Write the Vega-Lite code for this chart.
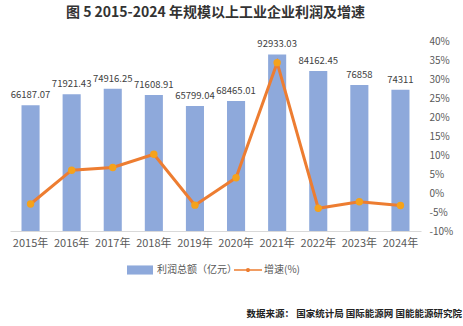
{
  "$schema": "https://vega.github.io/schema/vega-lite/v6.json",
  "autosize": "none",
  "width": 411,
  "height": 190,
  "padding": {"left": 10, "top": 41, "right": 42, "bottom": 95},
  "background": "white",
  "title": {
    "text": "图 5 2015-2024 年规模以上工业企业利润及增速",
    "font": "Noto Sans CJK SC",
    "fontSize": 14,
    "fontWeight": "bold",
    "color": "#333333",
    "anchor": "middle",
    "offset": 16
  },
  "data": {
    "values": [
      {"year": "2015年", "profit": 66187.07, "growth": -2.9},
      {"year": "2016年", "profit": 71921.43, "growth": 6.0},
      {"year": "2017年", "profit": 74916.25, "growth": 6.7},
      {"year": "2018年", "profit": 71608.91, "growth": 10.2},
      {"year": "2019年", "profit": 65799.04, "growth": -3.2},
      {"year": "2020年", "profit": 68465.01, "growth": 4.0},
      {"year": "2021年", "profit": 92933.03, "growth": 34.3},
      {"year": "2022年", "profit": 84162.45, "growth": -4.0},
      {"year": "2023年", "profit": 76858, "growth": -2.3},
      {"year": "2024年", "profit": 74311, "growth": -3.3}
    ]
  },
  "encoding": {
    "x": {
      "field": "year",
      "type": "nominal",
      "sort": null,
      "scale": {"paddingInner": 0.56, "paddingOuter": 0.28},
      "axis": {
        "labelAngle": 0,
        "labelFont": "Noto Sans CJK SC",
        "labelFontSize": 11,
        "labelColor": "#595959",
        "labelPadding": 6,
        "ticks": false,
        "domainColor": "#D9D9D9",
        "domainWidth": 1,
        "grid": false,
        "title": "数据来源：  国家统计局  国际能源网  国能能源研究院",
        "titleFont": "Noto Sans CJK SC",
        "titleFontSize": 9.5,
        "titleFontWeight": "bold",
        "titleColor": "#222222",
        "titleAnchor": "start",
        "titleAlign": "left",
        "titleBaseline": "middle",
        "titleX": 236,
        "titleY": 82
      }
    }
  },
  "layer": [
    {
      "encoding": {
        "y": {
          "field": "profit",
          "type": "quantitative",
          "scale": {"domain": [0, 100000], "nice": false},
          "axis": null
        }
      },
      "layer": [
        {
          "mark": {"type": "bar"},
          "encoding": {
            "fill": {
              "datum": "利润总额（亿元）",
              "type": "nominal",
              "scale": {"domain": ["利润总额（亿元）"], "range": ["#8EA9DB"]},
              "legend": {
                "title": null,
                "orient": "none",
                "legendX": 117,
                "legendY": 216,
                "padding": 0,
                "symbolType": "M-1,-0.35H1V0.35H-1Z",
                "symbolSize": 676,
                "symbolStrokeWidth": 0,
                "labelFont": "Noto Sans CJK SC",
                "labelFontSize": 10,
                "labelColor": "#595959",
                "labelOffset": 4
              }
            }
          }
        },
        {
          "mark": {
            "type": "text",
            "baseline": "bottom",
            "dy": -5,
            "font": "Noto Sans CJK SC",
            "fontSize": 9.5,
            "color": "#404040"
          },
          "encoding": {
            "text": {"field": "profit", "type": "quantitative", "format": ".2~f"}
          }
        }
      ]
    },
    {
      "encoding": {
        "y": {
          "field": "growth",
          "type": "quantitative",
          "scale": {"domain": [-10, 40], "nice": false},
          "axis": {
            "orient": "right",
            "values": [-10, -5, 0, 5, 10, 15, 20, 25, 30, 35, 40],
            "labelExpr": "datum.value + '%'",
            "labelOverlap": false,
            "labelFont": "Noto Sans CJK SC",
            "labelFontSize": 10,
            "labelColor": "#595959",
            "labelAlign": "left",
            "labelPadding": 8,
            "ticks": false,
            "domain": false,
            "grid": false,
            "title": null
          }
        }
      },
      "layer": [
        {
          "mark": {"type": "line", "strokeWidth": 3, "color": "#ED7D31"},
          "encoding": {
            "stroke": {
              "datum": "增速(%)",
              "type": "nominal",
              "scale": {"domain": ["增速(%)"], "range": ["#ED7D31"]},
              "legend": {
                "title": null,
                "orient": "none",
                "legendX": 224,
                "legendY": 215,
                "padding": 0,
                "symbolType": "M-1,-0.06H1V0.06H-1Z M0.15,0 A0.15,0.15 0 1,1 -0.15,0 A0.15,0.15 0 1,1 0.15,0Z",
                "symbolSize": 784,
                "symbolFillColor": "#ED7D31",
                "symbolStrokeWidth": 0,
                "labelFont": "Noto Sans CJK SC",
                "labelFontSize": 10,
                "labelColor": "#595959",
                "labelOffset": 2
              }
            }
          }
        },
        {
          "mark": {"type": "point", "filled": true, "size": 55, "color": "#F5A21B", "opacity": 1}
        }
      ]
    }
  ],
  "resolve": {"scale": {"y": "independent"}},
  "config": {
    "view": {"stroke": null}
  }
}
